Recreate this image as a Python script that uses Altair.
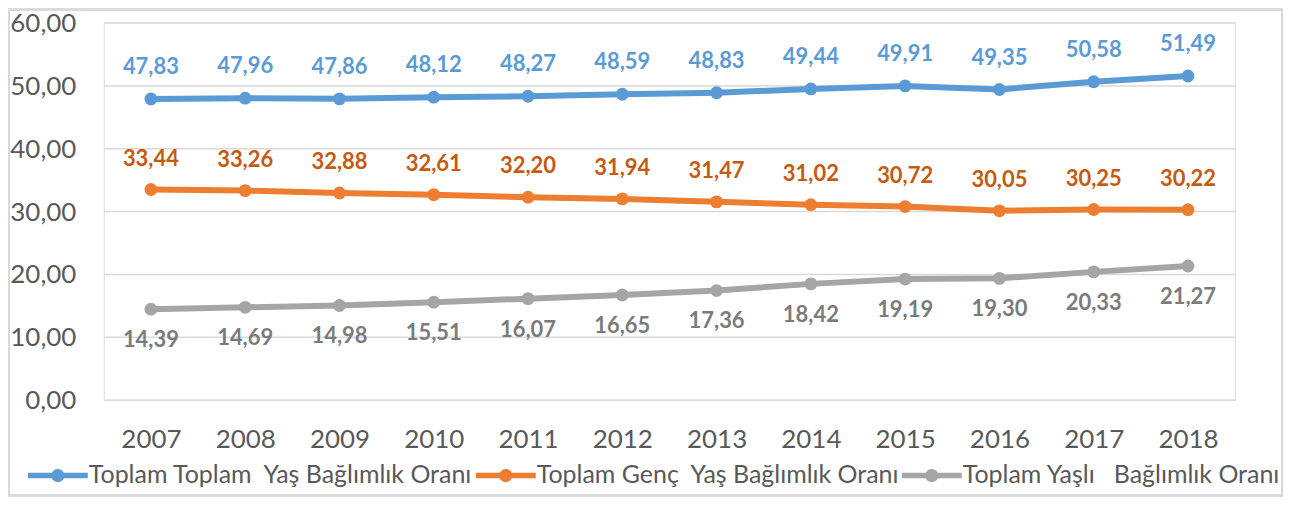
import altair as alt
import pandas as pd

years = [str(y) for y in range(2007, 2019)]
toplam = [47.83, 47.96, 47.86, 48.12, 48.27, 48.59, 48.83, 49.44, 49.91, 49.35, 50.58, 51.49]
genc = [33.44, 33.26, 32.88, 32.61, 32.20, 31.94, 31.47, 31.02, 30.72, 30.05, 30.25, 30.22]
yasli = [14.39, 14.69, 14.98, 15.51, 16.07, 16.65, 17.36, 18.42, 19.19, 19.30, 20.33, 21.27]

series_names = [
    "Toplam Toplam\u00a0 Yaş Bağlımlık Oranı",
    "Toplam Genç\u00a0 Yaş Bağlımlık Oranı",
    "Toplam Yaşlı\u00a0\u00a0 Bağlımlık Oranı",
]
line_colors = ["#5B9BD5", "#ED7D31", "#A5A5A5"]
label_colors = ["#5B9BD5", "#C55A11", "#7B7B7B"]
y_ticks = [0, 10, 20, 30, 40, 50, 60]

rows = []
for name, vals in zip(series_names, [toplam, genc, yasli]):
    for yr, v in zip(years, vals):
        rows.append({"year": yr, "series": name, "value": v})
df = pd.DataFrame(rows)

FONT = "Lato"

base = alt.Chart(df).transform_calculate(
    label="replace(format(datum.value, '.2f'), '.', ',')"
)

x = alt.X(
    "year:O",
    scale=alt.Scale(type="point", padding=0.5),
    axis=alt.Axis(
        title=None, labelAngle=0, labelFontSize=26, labelFont=FONT,
        labelColor="#595959", ticks=False, domain=False, labelPadding=27, grid=False,
    ),
)
y = alt.Y(
    "value:Q",
    scale=alt.Scale(domain=[0, 60], nice=False),
    axis=alt.Axis(
        title=None, values=y_ticks,
        labelExpr="replace(format(datum.value, '.2f'), '.', ',')",
        labelFontSize=26, labelFont=FONT, labelColor="#595959",
        ticks=False, domain=False, labelPadding=28, labelOffset=1,
        grid=True, gridColor="#D9D9D9", gridWidth=1.5,
    ),
)

legend_path = (
    "M-1,-0.09H1V0.09H-1Z "
    "M-0.22,0A0.22,0.22 0 1,1 0.22,0A0.22,0.22 0 1,1 -0.22,0Z"
)

color_scale = alt.Scale(domain=series_names, range=line_colors)
legend = alt.Legend(
    title=None, orient="none", direction="horizontal",
    legendX=-76, legendY=424,
    symbolType=legend_path, symbolSize=3600, symbolStrokeWidth=0,
    labelFontSize=25, labelFont=FONT, labelColor="#595959",
    labelLimit=600, labelOffset=1, columnPadding=2,
)
color = alt.Color("series:N", scale=color_scale, legend=legend)

lines = base.mark_line(strokeWidth=6).encode(
    x=x, y=y, color=color,
)
points = base.mark_point(filled=True, size=165, opacity=1).encode(
    x=x, y=y, color=color,
)

texts = []
for name, col, dy in zip(series_names, label_colors, [-32, -31, 31]):
    texts.append(
        base.transform_filter(alt.datum.series == name)
        .mark_text(fontSize=22, fontWeight="bold", font=FONT, color=col, dy=dy)
        .encode(x=x, y=y, text="label:N")
    )

border = alt.Chart(df).mark_rect(
    fill=None, stroke="#D9D9D9", strokeWidth=1.5
).encode(
    x=alt.value(-95), x2=alt.value(1181), y=alt.value(-13), y2=alt.value(474)
)

chart = alt.layer(border, lines, points, *texts).properties(
    width=1134, height=378,
    autosize=alt.AutoSizeParams(type="none"),
    padding={"left": 96, "top": 14, "right": 50, "bottom": 98},
).configure_view(stroke=None).configure(background="white")

chart.save("out.html", embed_options={"renderer": "svg", "actions": False})
